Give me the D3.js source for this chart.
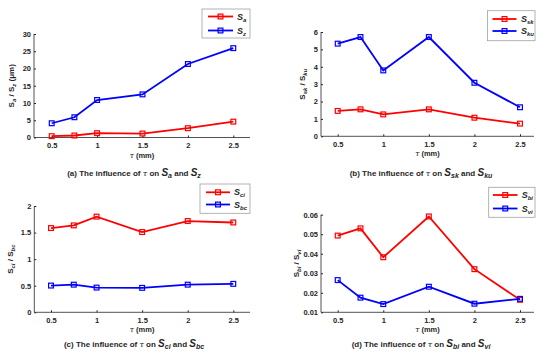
<!DOCTYPE html>
<html><head><meta charset="utf-8">
<script src="https://cdn.jsdelivr.net/npm/d3@7"></script>
<style>body{margin:0;background:#fff}svg{display:block}text{font-family:"Liberation Sans",Arial,sans-serif;font-weight:bold;fill:#262626}</style>
</head><body><svg id="c" width="550" height="361"></svg>
<script>
const tau = [0.5, 0.75, 1, 1.5, 2, 2.5];
const xTicks = [0.5, 1, 1.5, 2, 2.5];
const Sa  = [0.38, 0.58, 1.25, 1.15, 2.7, 4.6];
const Sz  = [4.13, 5.87, 10.87, 12.5, 21.3, 25.9];
const Ssk = [1.46, 1.55, 1.26, 1.55, 1.07, 0.73];
const Sku = [5.33, 5.71, 3.79, 5.71, 3.08, 1.67];
const Sci = [1.585, 1.635, 1.80, 1.51, 1.717, 1.69];
const Sbc = [0.503, 0.52, 0.465, 0.46, 0.52, 0.535];
const Sbi = [0.0493, 0.0530, 0.0382, 0.0591, 0.0321, 0.0164];
const Svi = [0.0265, 0.0175, 0.0142, 0.0231, 0.0144, 0.0169];
const yTicksA = [0, 5, 10, 15, 20, 25, 30];
const yTicksB = [0, 1, 2, 3, 4, 5, 6];
const yTicksC = [0, 0.5, 1, 1.5, 2];
const yTicksD = [0.01, 0.02, 0.03, 0.04, 0.05, 0.06];

const svg = d3.select("#c");
const RED = "#ff0000", BLUE = "#0000ff";

function addSub(sel, base, sub, bSize, sSize, italic) {
  sel.append("tspan").attr("font-size", bSize).attr("font-style", italic ? "italic" : null).text(base);
  sel.append("tspan").attr("font-size", sSize).attr("font-style", "italic").attr("baseline-shift", "-2px").text(sub);
}

function panel(p) {
  const g = svg.append("g");
  const x = d3.scaleLinear().domain([0.5, 2.5]).range([p.x05, p.x25]);
  const y = d3.scaleLinear().domain(p.yDom).range([p.yB, p.yT]);
  g.append("line").attr("x1", p.xl).attr("x2", p.xr).attr("y1", p.yB).attr("y2", p.yB).attr("stroke", "#262626").attr("stroke-width", 0.8);
  g.append("line").attr("x1", p.xl).attr("x2", p.xl).attr("y1", p.yB).attr("y2", p.yT).attr("stroke", "#262626").attr("stroke-width", 0.8);
  const xa = d3.axisBottom(x).tickValues(xTicks).tickSize(-2).tickPadding(4).tickFormat(d3.format("")).tickSizeOuter(0);
  g.append("g").attr("transform", `translate(0,${p.yB})`).call(xa).call(s => {
    s.select(".domain").remove();
    s.selectAll("line").attr("stroke", "#262626");
    s.selectAll("text").attr("font-size", 7.5).attr("font-family", null).attr("fill", "#262626").attr("dy", "0.85em");
  });
  const ya = d3.axisLeft(y).tickValues(p.yTicks).tickSize(-2).tickPadding(3).tickFormat(d3.format("")).tickSizeOuter(0);
  g.append("g").attr("transform", `translate(${p.xl},0)`).call(ya).call(s => {
    s.select(".domain").remove();
    s.selectAll("line").attr("stroke", "#262626");
    s.selectAll("text").attr("font-size", 7.5).attr("font-family", null).attr("fill", "#262626");
  });
  const line = d3.line().x((d, i) => x(tau[i])).y(d => y(d));
  p.series.forEach(s => {
    g.append("path").datum(s.values).attr("d", line).attr("fill", "none").attr("stroke", s.color).attr("stroke-width", 1.8);
    g.selectAll(null).data(s.values).enter().append("rect")
      .attr("x", (d, i) => x(tau[i]) - 2.4).attr("y", d => y(d) - 2.4)
      .attr("width", 4.8).attr("height", 4.8).attr("fill", "none")
      .attr("stroke", s.color).attr("stroke-width", 1.2);
  });
  const xl = g.append("text").attr("x", (p.xl + p.xr) / 2).attr("y", p.yB + 20).attr("text-anchor", "middle").attr("font-size", 7.5);
  xl.append("tspan").attr("font-size", 7.5).attr("font-style", "italic").attr("font-weight", "normal").attr("font-family", "DejaVu Serif").text("τ");
  xl.append("tspan").attr("font-size", 7.5).text(" (mm)");
  const yl = g.append("text").attr("transform", `translate(${p.ylx},${(p.yT + p.yB) / 2}) rotate(-90)`).attr("text-anchor", "middle").attr("font-size", 8);
  addSub(yl, "S", p.s1, 8, 6, false);
  yl.append("tspan").attr("font-size", 8).text(" / ");
  addSub(yl, "S", p.s2, 8, 6, false);
  if (p.yUnit) yl.append("tspan").attr("font-size", 8).text(p.yUnit);
  const cap = g.append("text").attr("x", p.capX).attr("y", p.capY).attr("text-anchor", "middle").attr("font-size", 8);
  cap.append("tspan").attr("font-size", 8).text(`(${p.letter}) The influence of `);
  cap.append("tspan").attr("font-size", 8).attr("font-style", "italic").attr("font-weight", "normal").attr("font-family", "DejaVu Serif").text("τ");
  cap.append("tspan").attr("font-size", 8).text(" on ");
  addSub(cap, "S", p.s1, 10, 7, true);
  cap.append("tspan").attr("font-size", 8).text(" and ");
  addSub(cap, "S", p.s2, 10, 7, true);
  const L = p.leg;
  g.append("rect").attr("x", L.x).attr("y", L.y).attr("width", L.w).attr("height", L.h).attr("fill", "#fff").attr("stroke", "#a0a0a0").attr("stroke-width", 0.8);
  p.series.forEach((s, i) => {
    const ry = L.rows[i];
    g.append("line").attr("x1", L.l1).attr("x2", L.l2).attr("y1", ry).attr("y2", ry).attr("stroke", s.color).attr("stroke-width", 1.8);
    g.append("rect").attr("x", (L.l1 + L.l2) / 2 - 2.4).attr("y", ry - 2.4).attr("width", 4.8).attr("height", 4.8).attr("fill", "none").attr("stroke", s.color).attr("stroke-width", 1.2);
    const t = g.append("text").attr("x", L.tx).attr("y", ry + 3).attr("font-size", 9).attr("font-weight", "normal");
    addSub(t, "S", s.name, 9, 6, true);
  });
}

panel({letter: "a", s1: "a", s2: "z", yUnit: " (\u03bcm)", xl: 34, xr: 250, x05: 51.7, x25: 233.3, yT: 34, yB: 137.5, yDom: [0, 30], yTicks: yTicksA, ylx: 14, capX: 134, capY: 176,
  series: [{name: "a", values: Sa, color: RED}, {name: "z", values: Sz, color: BLUE}],
  leg: {x: 202, y: 9, w: 48, h: 29, rows: [16.5, 30.5], l1: 208, l2: 233, tx: 237}});
panel({letter: "b", s1: "sk", s2: "ku", xl: 321, xr: 534, x05: 337.7, x25: 520, yT: 32, yB: 136.3, yDom: [0, 6], yTicks: yTicksB, ylx: 305, capX: 421, capY: 176,
  series: [{name: "sk", values: Ssk, color: RED}, {name: "ku", values: Sku, color: BLUE}],
  leg: {x: 487.5, y: 10.7, w: 47.5, h: 30, rows: [19, 31], l1: 492.5, l2: 516.5, tx: 521}});
panel({letter: "c", s1: "ci", s2: "bc", xl: 34.3, xr: 250, x05: 51, x25: 233.3, yT: 206, yB: 312.3, yDom: [0, 2], yTicks: yTicksC, ylx: 13, capX: 134, capY: 347,
  series: [{name: "ci", values: Sci, color: RED}, {name: "bc", values: Sbc, color: BLUE}],
  leg: {x: 200, y: 184, w: 50, h: 29.3, rows: [192.3, 204.5], l1: 206, l2: 230, tx: 234}});
panel({letter: "d", s1: "bi", s2: "vi", xl: 321, xr: 534, x05: 337.7, x25: 520, yT: 214.7, yB: 312.3, yDom: [0.01, 0.06], yTicks: yTicksD, ylx: 299, capX: 421, capY: 347,
  series: [{name: "bi", values: Sbi, color: RED}, {name: "vi", values: Svi, color: BLUE}],
  leg: {x: 488.7, y: 187.3, w: 46.3, h: 30, rows: [195, 208.5], l1: 493, l2: 517.5, tx: 521.7}});
</script></body></html>
